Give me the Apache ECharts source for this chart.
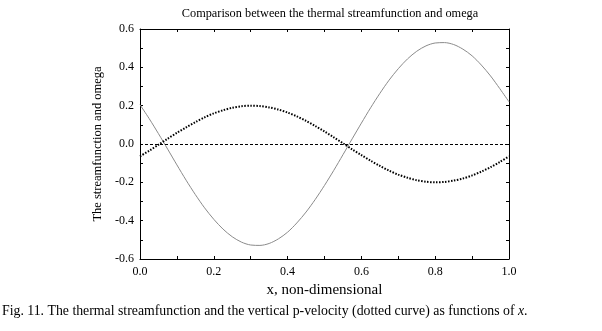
<!DOCTYPE html>
<html>
<head>
<meta charset="utf-8">
<script src="https://cdn.jsdelivr.net/npm/echarts@6/dist/echarts.min.js"></script>
<style>
  html, body { margin: 0; padding: 0; background: #fff; }
  #chart { width: 602px; height: 331px; }
</style>
</head>
<body>
<div id="chart"></div>
<script>
// x positions (non-dimensional), every 0.025
const xValues = [0, 0.025, 0.05, 0.075, 0.1, 0.125, 0.15, 0.175, 0.2, 0.225,
  0.25, 0.275, 0.3, 0.325, 0.35, 0.375, 0.4, 0.425, 0.45, 0.475,
  0.5, 0.525, 0.55, 0.575, 0.6, 0.625, 0.65, 0.675, 0.7, 0.725,
  0.75, 0.775, 0.8, 0.825, 0.85, 0.875, 0.9, 0.925, 0.95, 0.975, 1.0]

// thermal streamfunction (solid grey)
const streamfunction = [0.205, 0.132, 0.054, -0.027, -0.109, -0.189, -0.264, -0.333, -0.393, -0.444,
  -0.484, -0.512, -0.527, -0.529, -0.519, -0.495, -0.46, -0.412, -0.355, -0.289,
  -0.216, -0.138, -0.056, 0.027, 0.109, 0.189, 0.264, 0.333, 0.393, 0.444,
  0.484, 0.512, 0.527, 0.529, 0.519, 0.495, 0.46, 0.412, 0.355, 0.289, 0.22]

// vertical p-velocity omega (dotted curve)
const omega = [-0.064, -0.035, -0.004, 0.028, 0.058, 0.087, 0.114, 0.139, 0.16, 0.176,
  0.189, 0.197, 0.2, 0.198, 0.191, 0.18, 0.164, 0.144, 0.121, 0.094,
  0.065, 0.035, 0.004, -0.028, -0.058, -0.087, -0.114, -0.139, -0.16, -0.176,
  -0.189, -0.197, -0.2, -0.198, -0.191, -0.18, -0.164, -0.144, -0.121, -0.094, -0.064]

const zeroLevel = 0

const font = 'Liberation Serif'

const chart = echarts.init(document.getElementById('chart'))

function pairs(ys) {
  return xValues.map((x, i) => [x, ys[i]])
}

// box axes: ticks point inwards on all four sides
const tickStyle = {
  axisLine: { show: true, onZero: false, lineStyle: { color: '#000', width: 1 } },
  axisTick: { show: true, inside: true, length: 3, lineStyle: { color: '#000' } },
  minorTick: { show: true, splitNumber: 2, length: 3, lineStyle: { color: '#000' } },
  splitLine: { show: false }
}

chart.setOption({
  animation: false,
  title: {
    text: 'Comparison between the thermal streamfunction and omega',
    left: 325,
    textAlign: 'center',
    top: 3,
    textStyle: { fontFamily: font, fontSize: 12.3, fontWeight: 'normal', color: '#000' }
  },
  grid: { left: 140, right: 93, top: 29, bottom: 72 },
  xAxis: [
    {
      type: 'value', min: 0, max: 1, interval: 0.2, position: 'bottom',
      name: 'x, non-dimensional', nameLocation: 'middle', nameGap: 17,
      nameTextStyle: { fontFamily: font, fontSize: 15, color: '#000' },
      axisLabel: { fontFamily: font, fontSize: 12, color: '#000', margin: 7,
        formatter: v => v.toFixed(1) },
      ...tickStyle
    },
    {
      type: 'value', min: 0, max: 1, interval: 0.2, position: 'top',
      axisLabel: { show: false },
      ...tickStyle
    }
  ],
  yAxis: [
    {
      type: 'value', min: -0.6, max: 0.6, interval: 0.2, position: 'left',
      name: 'The streamfunction and omega', nameLocation: 'middle', nameGap: 28,
      nameTextStyle: { fontFamily: font, fontSize: 12.5, color: '#000' },
      axisLabel: { fontFamily: font, fontSize: 12, color: '#000', margin: 6,
        formatter: v => v.toFixed(1) },
      ...tickStyle
    },
    {
      type: 'value', min: -0.6, max: 0.6, interval: 0.2, position: 'right',
      axisLabel: { show: false },
      ...tickStyle
    }
  ],
  series: [
    {
      name: 'streamfunction',
      type: 'line',
      data: pairs(streamfunction),
      smooth: 0.3,
      symbol: 'none',
      lineStyle: { color: '#8a8a8a', width: 1 },
      markLine: {
        silent: true,
        symbol: 'none',
        label: { show: false },
        lineStyle: { color: '#000', width: 1, type: [3, 2] },
        data: [{ yAxis: zeroLevel }]
      }
    },
    {
      name: 'omega',
      type: 'line',
      data: pairs(omega),
      smooth: 0.3,
      symbol: 'none',
      lineStyle: { color: '#000', width: 2, type: [1.5, 1.5] }
    }
  ],
  graphic: [
    {
      type: 'text',
      left: 2,
      top: 304,
      style: {
        text: 'Fig. 11. The thermal streamfunction and the vertical p-velocity (dotted curve) as functions of {i|x}.',
        font: '13.8px "Liberation Serif"',
        fill: '#000',
        rich: {
          i: { fontStyle: 'italic', fontFamily: font, fontSize: 13.8, fill: '#000' }
        }
      }
    }
  ]
})
</script>
</body>
</html>
